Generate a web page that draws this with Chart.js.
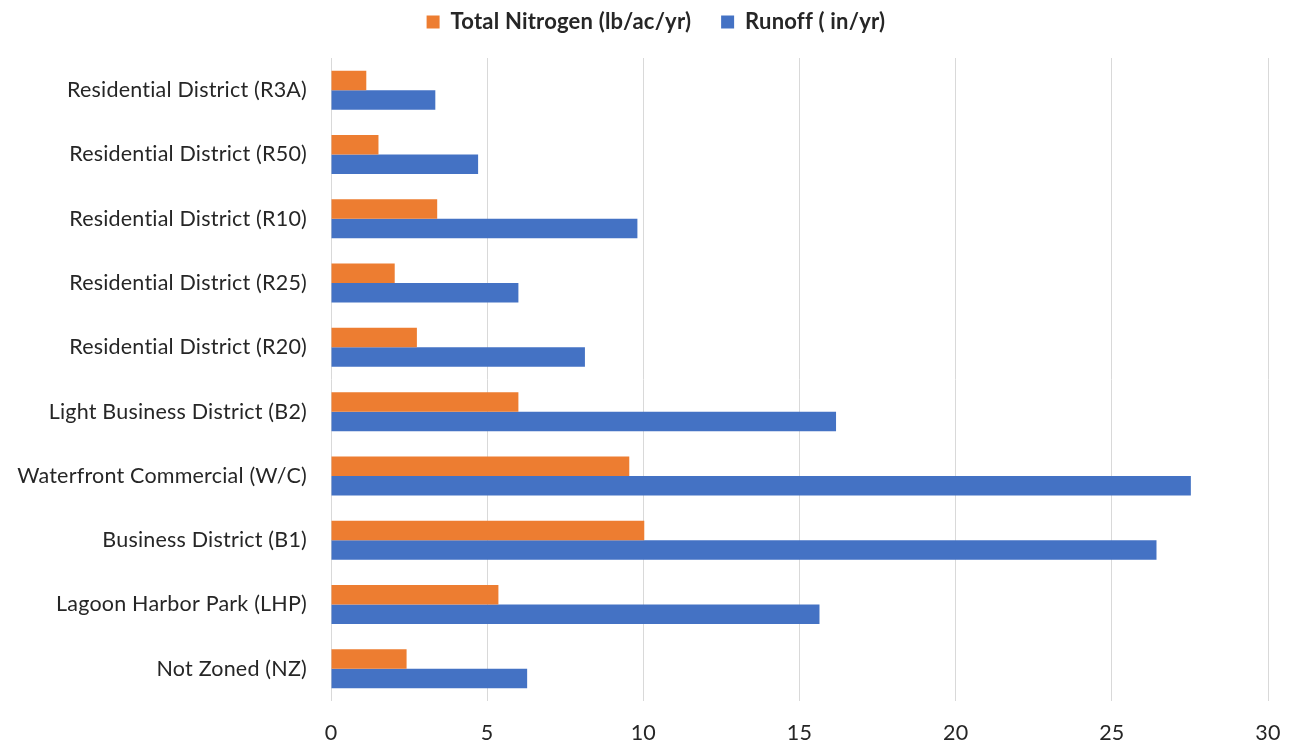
<!DOCTYPE html>
<html>
<head>
<meta charset="utf-8">
<script src="https://cdn.jsdelivr.net/npm/chart.js@4.4.1/dist/chart.umd.min.js"></script>
<style>
  html, body { margin: 0; padding: 0; background: #fff; }
  .chart-box { position: relative; width: 1292px; height: 745px; }
</style>
</head>
<body>
<div class="chart-box">
  <canvas id="zoningChart"></canvas>
</div>
<script>
// zoning districts, listed top to bottom
const zones = [
  "Residential District (R3A)",
  "Residential District (R50)",
  "Residential District (R10)",
  "Residential District (R25)",
  "Residential District (R20)",
  "Light Business District (B2)",
  "Waterfront Commercial (W/C)",
  "Business District (B1)",
  "Lagoon Harbor Park (LHP)",
  "Not Zoned (NZ)"
];
const nitrogen = [1.13, 1.52, 3.40, 2.04, 2.75, 6.00, 9.55, 10.03, 5.36, 2.42];
const runoff = [3.34, 4.71, 9.81, 6.00, 8.13, 16.17, 27.53, 26.43, 15.64, 6.28];
const xMin = 0, xMax = 30, xStep = 5;

const textColor = "#262626";
Chart.defaults.font.family = "Lato, 'Open Sans', sans-serif";
Chart.defaults.color = textColor;

// legend row: fixed height, nudged up and centred over the plot
const legendPlacement = {
  id: "legendPlacement",
  beforeInit(chart) {
    const origFit = chart.legend.fit;
    chart.legend.fit = function fit() {
      origFit.call(this);
      this.height = 58;
    };
  },
  afterLayout(chart) {
    chart.legend.top -= 19;
    chart.legend.left += 35;
  },
  beforeDraw(chart) {
    // a hair of spacing also turns off the "ti" ligature
    chart.ctx.letterSpacing = "0.2px";
  }
};

const ctx = document.getElementById("zoningChart").getContext("2d");
ctx.letterSpacing = "0.2px";
new Chart(ctx, {
  type: "bar",
  data: {
    labels: zones,
    datasets: [
      {
        label: "Total Nitrogen (lb/ac/yr)",
        data: nitrogen,
        backgroundColor: "#ED7D31",
        borderWidth: 0
      },
      {
        label: "Runoff ( in/yr)",
        data: runoff,
        backgroundColor: "#4472C4",
        borderWidth: 0
      }
    ]
  },
  options: {
    indexAxis: "y",
    responsive: true,
    maintainAspectRatio: false,
    animation: false,
    datasets: {
      bar: { barPercentage: 1, categoryPercentage: 0.607 }
    },
    layout: {
      padding: { left: 0, right: 24, top: 0, bottom: 0 }
    },
    scales: {
      x: {
        min: xMin,
        max: xMax,
        afterFit(scale) {
          scale.height = 44;
          scale.paddingLeft = 0;
          scale.paddingRight = 0;
        },
        ticks: {
          stepSize: xStep,
          padding: 19,
          font: { size: 21.5 },
          color: textColor
        },
        grid: { color: "#d9d9d9", lineWidth: 1, drawTicks: false },
        border: { display: false }
      },
      y: {
        afterFit(scale) { scale.width = 331; },
        ticks: {
          padding: 24,
          font: { size: 21.5 },
          color: textColor
        },
        grid: { display: false, drawTicks: false },
        border: { display: false }
      }
    },
    plugins: {
      legend: {
        position: "top",
        labels: {
          boxWidth: 13,
          boxHeight: 13,
          padding: 30,
          color: textColor,
          font: { size: 22, weight: "bold" }
        }
      },
      tooltip: { enabled: false }
    }
  },
  plugins: [legendPlacement]
});
</script>
</body>
</html>
